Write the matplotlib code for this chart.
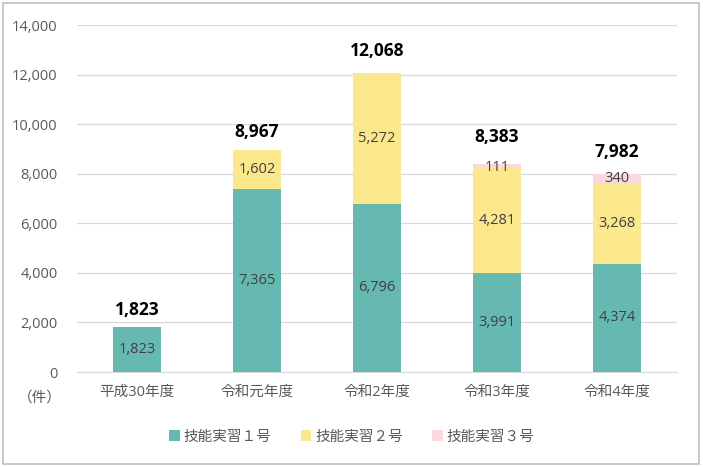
import matplotlib
matplotlib.use("Agg")
import matplotlib.pyplot as plt
from matplotlib.patches import Rectangle
import numpy as np

plt.rcParams['font.family'] = ['Open Sans', 'Noto Sans CJK JP', 'DejaVu Sans']

categories = ["平成30年度", "令和元年度", "令和2年度", "令和3年度", "令和4年度"]
series_names = ["技能実習１号", "技能実習２号", "技能実習３号"]
s1 = [1823, 7365, 6796, 3991, 4374]
s2 = [0, 1602, 5272, 4281, 3268]
s3 = [0, 0, 0, 111, 340]
totals = [1823, 8967, 12068, 8383, 7982]
colors = ["#66B9B1", "#FBE88C", "#F9D9DE"]
# vertical gap (in points) between bar top and total label, as placed in the original
total_label_gap = [12, 12.5, 16, 19.5, 16]

fig = plt.figure(figsize=(7.03, 4.67), dpi=100)
fig.patches.append(Rectangle((0.004, 0.006), 0.991, 0.988, transform=fig.transFigure,
                             fill=False, edgecolor="#BFBFBF", linewidth=1.2))
ax = fig.add_axes([77/703, 1-372/467, 600/703, 347/467])

x = np.arange(len(categories))
w = 0.4
bottom = np.zeros(len(categories))
handles = []
for vals, col, name in zip([s1, s2, s3], colors, series_names):
    vals = np.array(vals)
    b = ax.bar(x, vals, w, bottom=bottom, color=col, label=name, zorder=3)
    handles.append(b)
    for i, v in enumerate(vals):
        if v > 0:
            yy = bottom[i] + v/2
            if v < 200:
                yy -= 80
            ax.text(x[i], yy, f"{v:,}", ha="center", va="center", fontsize=10.5, color="#404040", zorder=4)
    bottom = bottom + vals

for i, t in enumerate(totals):
    ax.annotate(f"{t:,}", (x[i], t), xytext=(0, total_label_gap[i]), textcoords="offset points",
                ha="center", va="center", fontsize=12.5, fontweight="bold", color="black")

ax.set_xlim(-0.5, 4.5)
ax.set_ylim(0, 14000)
ax.set_yticks(np.arange(0, 14001, 2000))
ax.set_yticklabels([f"{v:,}" for v in range(0, 14001, 2000)])
ax.set_xticks(x)
ax.set_xticklabels(categories)
ax.tick_params(axis='both', length=0, labelsize=10.5, colors="#595959")
ax.tick_params(axis='x', pad=9)
ax.tick_params(axis='y', pad=14)
ax.grid(axis='y', color="#D9D9D9", linewidth=0.9, zorder=0)
for s in ["top", "right", "left"]:
    ax.spines[s].set_visible(False)
ax.spines["bottom"].set_color("#D9D9D9")
ax.set_axisbelow(True)

fig.text(40/703, 1-398/467, "（件）", ha="center", va="center", fontsize=10.5, color="#595959")

fig.legend(handles=handles, labels=series_names, loc="center", bbox_to_anchor=(352/703, 1-437/467),
           ncol=3, frameon=False, fontsize=10.5, handlelength=0.7, handleheight=0.7,
           handletextpad=0.3, columnspacing=2.0, labelcolor="#595959")

fig.savefig("out.png", dpi=100)
